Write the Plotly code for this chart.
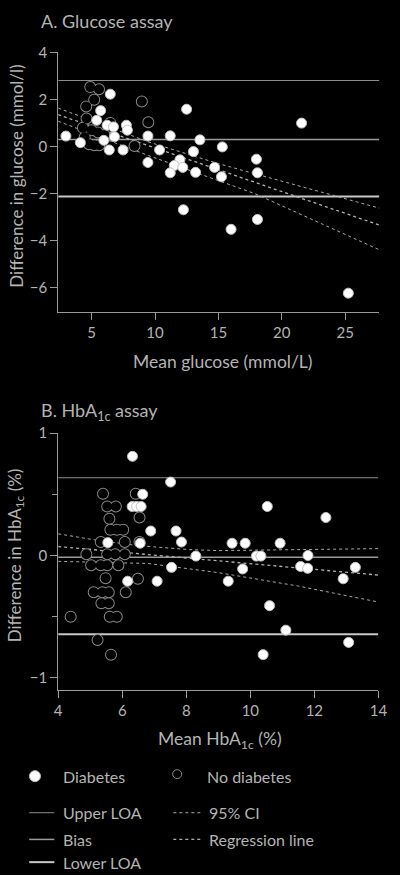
import plotly.graph_objects as go

# ---- panel A: glucose assay ----
glu_diab_x = [2.97, 4.11, 6.47, 5.71, 5.40, 6.22, 6.72, 7.74, 7.82, 6.80, 5.96, 6.39, 7.48,
              9.44, 9.44, 11.2, 12.49, 10.36, 13.54, 13.03, 11.96, 11.52, 12.19, 11.2, 13.2,
              14.70, 15.24, 15.31, 18.0, 18.08, 21.56, 12.24, 16.0, 18.08, 25.25]
glu_diab_y = [0.45, 0.17, 2.23, 1.53, 1.12, 0.91, 0.84, 0.91, 0.70, 0.42, 0.27, -0.14, -0.14,
              0.45, -0.67, 0.46, 1.59, -0.14, 0.29, -0.21, -0.56, -0.80, -0.88, -1.11, -1.09,
              -0.88, -1.28, -0.01, -0.53, -1.11, 1.0, -2.68, -3.51, -3.09, -6.22]
glu_nodiab_x = [4.89, 5.58, 5.2, 4.57, 8.96, 9.47, 8.38, 4.6, 4.31, 4.45, 4.8, 5.2, 5.6,
                5.0, 5.5, 6.0, 6.47]
glu_nodiab_y = [2.53, 2.44, 1.99, 1.71, 1.92, 1.04, 0.03, 1.2, 0.8, 0.4, 0.1, 0.06, 0.06,
                0.7, 0.6, 0.5, 1.01]
glu_loa = [2.81, 0.31, -2.12]   # upper, bias, lower
glu_reg_x = [2.36, 27.7]
glu_reg_y = [1.36, -3.33]
glu_ci_hi_x = [2.36, 9.5, 15.0, 20.0, 27.7]
glu_ci_hi_y = [1.64, 0.2, -0.72, -1.47, -2.61]
glu_ci_lo_x = [2.36, 9.5, 17.9, 24.8, 27.7]
glu_ci_lo_y = [1.08, -0.38, -2.0, -3.69, -4.38]

# ---- panel B: HbA1c assay ----
hba_diab_x = [6.32, 7.51, 6.64, 6.31, 6.45, 6.59, 10.53, 12.36, 6.89, 7.68, 5.55, 6.56, 7.85,
              9.43, 9.84, 10.93, 8.30, 10.19, 10.33, 11.80, 7.54, 9.76, 11.57, 11.79, 13.28,
              6.17, 7.09, 9.31, 12.9, 10.6, 11.11, 10.4, 13.07]
hba_diab_y = [0.81, 0.60, 0.50, 0.40, 0.40, 0.40, 0.40, 0.31, 0.20, 0.20, 0.105, 0.10, 0.11,
              0.10, 0.10, 0.10, -0.005, -0.005, -0.005, 0.0, -0.097, -0.11, -0.09, -0.105, -0.097,
              -0.21, -0.21, -0.21, -0.19, -0.41, -0.61, -0.81, -0.71]
hba_nodiab_x = [5.40, 6.42, 5.53, 5.80, 5.60, 6.54, 5.63, 5.83, 6.03, 5.33, 6.08, 6.54,
                4.88, 5.53, 5.78, 6.08, 5.03, 5.33, 5.53, 5.88, 5.48, 6.49, 5.11, 5.38,
                5.58, 6.11, 5.35, 5.58, 4.39, 5.61, 5.83, 5.23, 5.65]
hba_nodiab_y = [0.505, 0.505, 0.40, 0.40, 0.30, 0.31, 0.21, 0.21, 0.21, 0.11, 0.11, 0.11,
                0.01, 0.01, 0.01, 0.01, -0.08, -0.08, -0.08, -0.08, -0.185, -0.19, -0.30, -0.30,
                -0.30, -0.30, -0.39, -0.39, -0.50, -0.50, -0.50, -0.69, -0.81]
hba_loa = [0.635, -0.014, -0.643]
hba_reg_x = [4, 14]
hba_reg_y = [0.073, -0.16]
hba_ci_hi_x = [4, 5.1, 6.5, 8.1, 9.0, 12, 14]
hba_ci_hi_y = [0.177, 0.129, 0.08, 0.048, 0.04, 0.048, 0.056]
hba_ci_lo_x = [4, 6.8, 9.0, 11.5, 14]
hba_ci_lo_y = [-0.048, -0.065, -0.14, -0.25, -0.38]

TXT = "#b4b4b4"
AX = "#9a9a9a"
FONT = "Lato"

glu_range = [2.36, 27.7]
hba_range = [4, 14]

loa_style = [dict(color="#8c8c8c", width=1), dict(color="#9a9a9a", width=1.5),
             dict(color="#c8c8c8", width=2)]
ci_style = dict(color="#a8a8a8", width=1, dash="3px,3px")
reg_style = dict(color="#b0b0b0", width=1.3, dash="dot")

fig = go.Figure()


def add_panel(xa, ya, rng, loa, rx, ry, hx, hy, lx, ly, nx, ny, dx, dy):
    for val, st in zip(loa, loa_style):
        fig.add_trace(go.Scatter(x=rng, y=[val, val], mode="lines", line=st,
                                 xaxis=xa, yaxis=ya, hoverinfo="skip"))
    fig.add_trace(go.Scatter(x=hx, y=hy, mode="lines", xaxis=xa, yaxis=ya, line=ci_style))
    fig.add_trace(go.Scatter(x=lx, y=ly, mode="lines", xaxis=xa, yaxis=ya, line=ci_style))
    fig.add_trace(go.Scatter(x=rx, y=ry, mode="lines", xaxis=xa, yaxis=ya, line=reg_style))
    # no diabetes: outline pass then black fill pass, so only the outer edge shows
    fig.add_trace(go.Scatter(x=nx, y=ny, mode="markers", xaxis=xa, yaxis=ya,
                             marker=dict(size=10, color="black",
                                         line=dict(color="#8a8a8a", width=2))))
    fig.add_trace(go.Scatter(x=nx, y=ny, mode="markers", xaxis=xa, yaxis=ya,
                             marker=dict(size=10, color="black", line=dict(width=0))))
    fig.add_trace(go.Scatter(x=dx, y=dy, mode="markers", xaxis=xa, yaxis=ya,
                             marker=dict(size=10, color="white",
                                         line=dict(color="#c0c0c0", width=1))))


add_panel("x", "y", glu_range, glu_loa, glu_reg_x, glu_reg_y, glu_ci_hi_x, glu_ci_hi_y,
          glu_ci_lo_x, glu_ci_lo_y, glu_nodiab_x, glu_nodiab_y, glu_diab_x, glu_diab_y)
add_panel("x2", "y2", hba_range, hba_loa, hba_reg_x, hba_reg_y, hba_ci_hi_x, hba_ci_hi_y,
          hba_ci_lo_x, hba_ci_lo_y, hba_nodiab_x, hba_nodiab_y, hba_diab_x, hba_diab_y)

axis_common = dict(showline=True, linecolor=AX, linewidth=1, ticks="outside", ticklen=7,
                   tickcolor=AX, showgrid=False, zeroline=False,
                   tickfont=dict(family=FONT, size=15, color=TXT))

fig.update_layout(
    width=400, height=875,
    paper_bgcolor="black", plot_bgcolor="black",
    margin=dict(l=0, r=0, t=0, b=0),
    showlegend=False,
    font=dict(family=FONT, color=TXT),
    xaxis=dict(domain=[0.14, 0.97], range=glu_range, anchor="y",
               tickvals=[5, 10, 15, 20, 25], **axis_common),
    yaxis=dict(domain=[0.6514, 0.9509], range=[-7, 4], anchor="x",
               tickvals=[-6, -4, -2, 0, 2, 4], **axis_common),
    xaxis2=dict(domain=[0.14, 0.9675], range=hba_range, anchor="y2",
                tickvals=[4, 6, 8, 10, 12, 14], **axis_common),
    yaxis2=dict(domain=[0.2137, 0.5109], range=[-1.1, 1], anchor="x2",
                tickvals=[-1, 0, 1],
                minor=dict(tickvals=[-0.5, 0.5], ticks="outside", ticklen=5,
                           tickcolor=AX, showgrid=False),
                **axis_common),
)


def px(x, y):
    return x / 400, 1 - y / 875


def note(text, x, y, size=17, anchor="left", angle=0):
    fx, fy = px(x, y)
    fig.add_annotation(text=text, x=fx, y=fy, xref="paper", yref="paper",
                       xanchor=anchor, yanchor="middle", showarrow=False, textangle=angle,
                       font=dict(family=FONT, size=size, color=TXT))


note("A. Glucose assay", 36, 11, size=18)
note("Difference in glucose (mmol/l)", 12, 168, anchor="center", angle=-90)
note("Mean glucose (mmol/L)", 226, 356, size=17.5, anchor="center")
note("B. HbA<sub>1c</sub> assay", 36, 406, size=18)
note("Difference in HbA<sub>1c</sub> (%)", 12, 552, anchor="center", angle=-90)
note("Mean HbA<sub>1c</sub> (%)", 223, 738, size=17.5, anchor="center")

# legend
for cx, cy, r, fill, edge in [(32, 775, 5.5, "white", "#c0c0c0"), (179, 773, 4.5, "black", "#8a8a8a")]:
    fx, fy = px(cx, cy)
    fig.add_shape(type="circle", xref="paper", yref="paper", xsizemode="pixel",
                  ysizemode="pixel", xanchor=fx, yanchor=fy, x0=-r, x1=r, y0=-r, y1=r,
                  fillcolor=fill, line=dict(color=edge, width=1))
note("Diabetes", 59, 775, size=16)
note("No diabetes", 208, 775, size=16)

legend_lines = [
    (26, 52, 812, loa_style[0], "Upper LOA"),
    (26, 52, 839, loa_style[1], "Bias"),
    (26, 52, 862, loa_style[2], "Lower LOA"),
    (175, 203, 812, ci_style, "95% CI"),
    (175, 203, 839, reg_style, "Regression line"),
]
for x0, x1, yy, st, label in legend_lines:
    a0, b0 = px(x0, yy)
    a1, _ = px(x1, yy)
    fig.add_shape(type="line", xref="paper", yref="paper", x0=a0, x1=a1, y0=b0, y1=b0,
                  line=st)
    note(label, x1 + 7, yy, size=16)

fig.write_html("out.html", config={"displayModeBar": False},
               post_script="document.body.style.margin='0';")
